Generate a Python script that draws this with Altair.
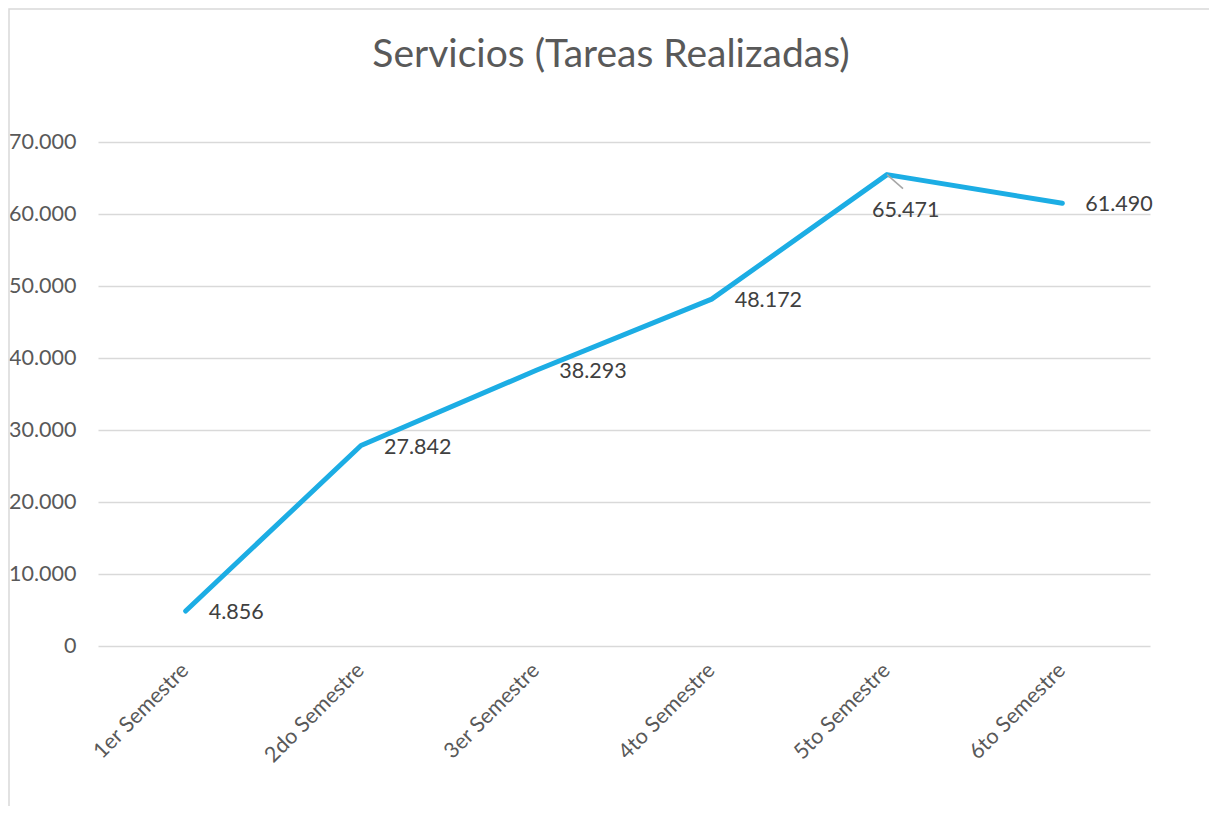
import altair as alt
import pandas as pd

semestres = ["1er Semestre", "2do Semestre", "3er Semestre", "4to Semestre", "5to Semestre", "6to Semestre"]
tareas = [4856, 27842, 38293, 48172, 65471, 61490]
y_ticks = [0, 10000, 20000, 30000, 40000, 50000, 60000, 70000]
titulo = "Servicios (Tareas Realizadas)"

FONT = "Lato"
GREY = "#595959"

df = pd.DataFrame({"Semestre": semestres, "Tareas": tareas})
one = pd.DataFrame({"a": [0]})

x = alt.X("Semestre:N", sort=semestres,
          axis=alt.Axis(title=None, labelAngle=-45, labelAlign="right", labelBaseline="middle",
                        ticks=False, domain=False, grid=False, labelFont=FONT, labelFontSize=21.5,
                        labelColor=GREY, labelPadding=21))
y = alt.Y("Tareas:Q", scale=alt.Scale(domain=[0, 70000], nice=False, zero=True),
          axis=alt.Axis(title=None, values=y_ticks, format=",.0f", ticks=False, domain=False,
                        gridColor="#D9D9D9", gridWidth=1.3, labelFont=FONT, labelFontSize=21.5,
                        labelColor=GREY, labelPadding=22))

base = alt.Chart(df)

frame = alt.Chart(one).mark_rect(fill="transparent", stroke="#D9D9D9", strokeWidth=1.5).encode(
    x=alt.value(-89), x2=alt.value(1130), y=alt.value(-133), y2=alt.value(720))

title = alt.Chart(one).mark_text(text=titulo, font=FONT, fontSize=39, color=GREY,
                                 align="center", baseline="middle").encode(
    x=alt.value(513), y=alt.value(-87))

line = base.mark_line(color="#1CADE4", strokeWidth=5, strokeCap="round", strokeJoin="round").encode(x=x, y=y)

labels = base.transform_filter(alt.datum.Semestre != "5to Semestre").mark_text(
    align="left", baseline="middle", dx=23, dy=2, font=FONT, fontSize=21.5, color="#404040").encode(
    x=x, y=y, text=alt.Text("Tareas:Q", format=",.0f"))

label5 = base.transform_filter(alt.datum.Semestre == "5to Semestre").mark_text(
    align="left", baseline="middle", dx=-15, dy=36, font=FONT, fontSize=21.5, color="#404040").encode(
    x=x, y=y, text=alt.Text("Tareas:Q", format=",.0f"))

leader = base.transform_filter(alt.datum.Semestre == "5to Semestre").mark_rule(
    color="#A6A6A6", strokeWidth=1.5, x2Offset=16, y2Offset=14).encode(
    x=x, y=y, x2="Semestre:N", y2="Tareas:Q")

chart = alt.layer(frame, title, line, leader, labels, label5).properties(
    width=1052, height=504,
    autosize=alt.AutoSizeParams(type="none"),
    padding={"left": 90, "top": 134, "right": 59, "bottom": 160},
).configure(background="white").configure_view(stroke=None)

chart.save("out.html", embed_options={
    "renderer": "svg", "actions": False,
    "formatLocale": {"decimal": ",", "thousands": ".", "grouping": [3], "currency": ["", " €"]},
})
